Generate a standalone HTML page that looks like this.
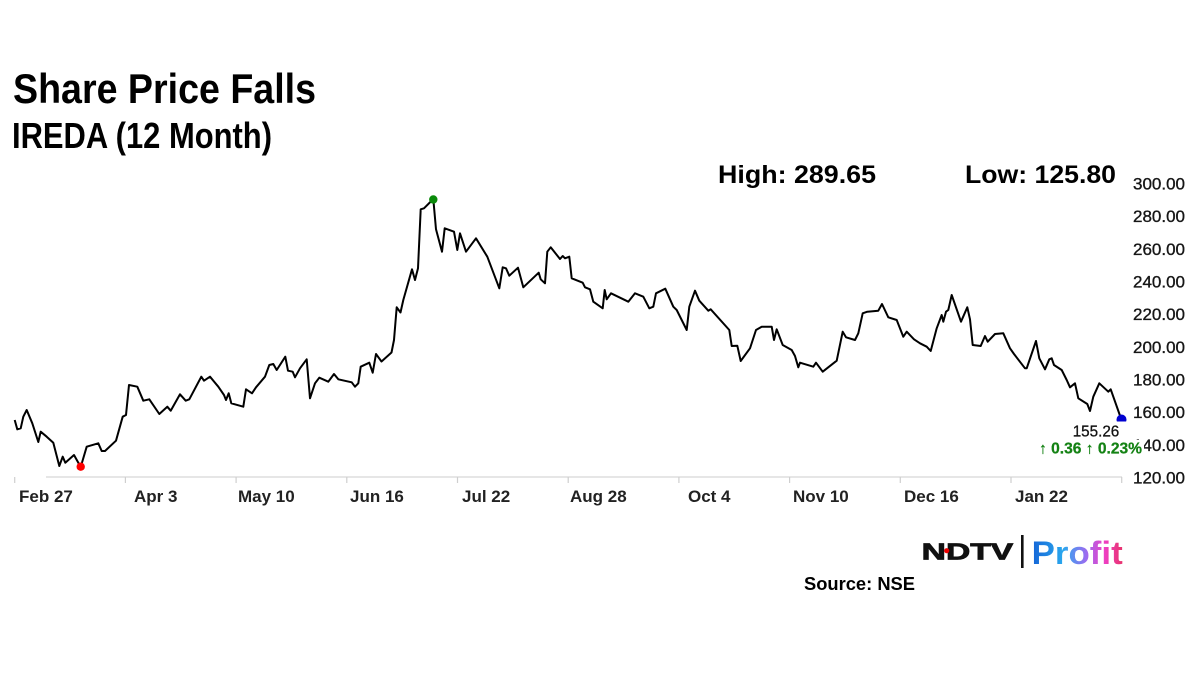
<!DOCTYPE html>
<html><head><meta charset="utf-8"><style>
html,body{margin:0;padding:0;background:#fff;}
svg{display:block;}
text{font-family:"Liberation Sans",Arial,sans-serif;}
</style></head><body>
<svg width="1200" height="675" viewBox="0 0 1200 675" xmlns="http://www.w3.org/2000/svg">
<defs>
<linearGradient id="pg" x1="1031" y1="0" x2="1123" y2="0" gradientUnits="userSpaceOnUse">
<stop offset="0" stop-color="#1463d6"/>
<stop offset="0.35" stop-color="#2aa8ee"/>
<stop offset="0.6" stop-color="#9b6cf0"/>
<stop offset="0.8" stop-color="#ee3fc4"/>
<stop offset="1" stop-color="#e8336a"/>
</linearGradient>
<clipPath id="bc"><rect x="1100" y="400" width="40" height="21.5"/></clipPath>
</defs>
<rect width="1200" height="675" fill="#fff"/>
<text x="13" y="103" font-size="42" font-weight="bold" fill="#000" textLength="303" lengthAdjust="spacingAndGlyphs">Share Price Falls</text>
<text x="12" y="148" font-size="36" font-weight="bold" fill="#000" textLength="260" lengthAdjust="spacingAndGlyphs">IREDA (12 Month)</text>
<text x="718" y="183" font-size="25" font-weight="bold" fill="#000" textLength="158" lengthAdjust="spacingAndGlyphs">High: 289.65</text>
<text x="965" y="183" font-size="25" font-weight="bold" fill="#000" textLength="151" lengthAdjust="spacingAndGlyphs">Low: 125.80</text>
<g font-size="17" fill="#161616" stroke="#161616" stroke-width="0.35">
<text x="1133" y="189.5">300.00</text>
<text x="1133" y="222.2">280.00</text>
<text x="1133" y="254.8">260.00</text>
<text x="1133" y="287.5">240.00</text>
<text x="1133" y="320.2">220.00</text>
<text x="1133" y="352.8">200.00</text>
<text x="1133" y="385.5">180.00</text>
<text x="1133" y="418.2">160.00</text>
<text x="1133" y="450.8">140.00</text>
<text x="1133" y="483.5">120.00</text>
</g>
<line x1="46" y1="477" x2="1122" y2="477" stroke="#d6d6d6" stroke-width="1.2"/>
<g stroke="#cfcfcf" stroke-width="1.2">
<line x1="14.7" y1="477" x2="14.7" y2="483"/>
<line x1="125.4" y1="477" x2="125.4" y2="483"/>
<line x1="236.1" y1="477" x2="236.1" y2="483"/>
<line x1="346.8" y1="477" x2="346.8" y2="483"/>
<line x1="457.5" y1="477" x2="457.5" y2="483"/>
<line x1="568.2" y1="477" x2="568.2" y2="483"/>
<line x1="678.9" y1="477" x2="678.9" y2="483"/>
<line x1="789.6" y1="477" x2="789.6" y2="483"/>
<line x1="900.3" y1="477" x2="900.3" y2="483"/>
<line x1="1011" y1="477" x2="1011" y2="483"/>
<line x1="1121.7" y1="477" x2="1121.7" y2="483"/>
</g>
<g font-size="17" font-weight="bold" fill="#222">
<text x="19" y="502">Feb 27</text>
<text x="134" y="502">Apr 3</text>
<text x="238" y="502">May 10</text>
<text x="350" y="502">Jun 16</text>
<text x="462" y="502">Jul 22</text>
<text x="570" y="502">Aug 28</text>
<text x="688" y="502">Oct 4</text>
<text x="793" y="502">Nov 10</text>
<text x="904" y="502">Dec 16</text>
<text x="1015" y="502">Jan 22</text>
</g>
<polyline fill="none" stroke="#000" stroke-width="2" stroke-linejoin="round" points="14.7,420 17.3,429.3 20.7,428.3 23.3,416.7 26.7,410 32.3,423.3 38.3,442 40.7,431.7 46.7,436.7 53.3,442.7 59.3,466 62.7,456.7 65.3,462.7 74,455 80.7,467 86.7,446.7 98.3,443.3 101.7,451 105,451 116,440.7 122.7,416.7 126,415 129,385 137.3,386.7 143.3,400.7 149.3,399.3 159.3,414 167.3,406.7 170.7,410.7 180,394.3 185.7,400.7 189.3,399.3 201.3,376.7 204,380.7 210,376.7 218.3,386.7 224,395 226,400 228.7,393.3 231.3,403.3 243.3,406.7 246,389.3 252,393.3 256,387.3 265,376.7 269.3,365 273.3,364 276.7,370 285.3,356.7 288,370.7 292.7,371.7 295,377.3 300,368.3 306.7,359.3 310,398.3 315,383.3 319.3,377.7 328.3,381.7 334,374 338.3,379.3 351.7,382.3 355,386.7 358.3,383.3 360.7,366.7 369.3,362.7 372.7,372.7 376,354 381.5,361.5 391.5,352.5 394,340 396.7,307.3 400.5,312.5 403.3,300 412,269.3 415,280 418,268.3 420.7,209.3 424,208.3 433.3,199 436,229.3 442,251.7 444.7,228.3 454,231.7 457.3,250 460,233.3 466,251.7 476,238.3 487.3,256.7 499.3,288.3 502.7,267.3 506,268.3 509.3,275.7 518,267.7 523.3,287.3 538.7,272.7 540.7,279.3 545,283.3 547.3,251.7 550.7,247.3 560,259 562.7,256 565,258.3 569.3,256.7 571.7,278.3 582.7,282.7 585,287.3 590,289.3 593.3,301.7 602.7,308.3 604.7,290 606.7,299.3 611,293.3 628.3,301.7 635,293.3 643.3,296.7 649.3,308.3 653.3,306.7 656,293.3 665.3,288.7 673.3,306.7 676.7,310 686.7,330 689.3,306.7 695,290.7 699.3,300.7 708.3,310.7 710.7,309.3 729.3,330 731.7,346 737.3,345.7 740.7,361 750,348.3 756,330 761.7,326.7 771.7,326.7 774,340 776.7,329.3 782.7,345 791.7,350 795,356 798.3,367.3 800,362.7 813.3,366.7 816,362.7 822.7,371.7 836.7,360.7 842.7,331.7 846,337.3 855,340 858.3,333.3 862.7,313.3 867.3,311.7 878.3,310.7 882,304 888.3,317.3 896.7,320 903.3,336.7 906.7,331.7 914,339.3 920,343.3 926.7,346.7 930.7,351 936.7,328.3 941.7,315 943.3,321.7 946,311.7 948.3,310 951.7,295 961,321.7 967.3,307.3 970,319.3 972.7,345 980.7,346 985,336 987.7,341.7 995,334 1003.3,333.3 1010,348.3 1014,354 1025,368.3 1026.7,368.3 1036,341 1039.3,358.3 1045,369.3 1049.3,359.3 1051.7,358.3 1054,365 1061.7,370 1066.7,380 1070,387.3 1075,383.3 1078.3,398.3 1087.3,404 1090,411 1093.3,396.7 1099.3,383.3 1108.3,391.7 1110.7,389.3 1121,418.5"/>
<circle cx="80.7" cy="466.7" r="4.2" fill="#f00"/>
<circle cx="433.3" cy="199.5" r="4.2" fill="#0a8a0a"/>
<circle cx="1121.5" cy="419.5" r="5" fill="#0000d0" clip-path="url(#bc)"/>
<text x="1119.3" y="436.7" font-size="15.5" fill="#111" stroke="#111" stroke-width="0.3" text-anchor="end" textLength="46.6" lengthAdjust="spacingAndGlyphs">155.26</text>
<rect x="1036" y="440" width="108" height="17" fill="#fff"/>
<text x="1039" y="453.3" font-size="15.5" font-weight="bold" fill="#148214" stroke="#148214" stroke-width="0.25" textLength="103" lengthAdjust="spacingAndGlyphs">↑ 0.36 ↑ 0.23%</text>
<text x="921.7" y="559.3" font-size="23" font-weight="900" fill="#111" stroke="#111" stroke-width="0.8" textLength="91.5" lengthAdjust="spacingAndGlyphs">NDTV</text>
<circle cx="946.7" cy="550.7" r="2.6" fill="#e00"/>
<rect x="1021" y="535" width="2.6" height="33" fill="#111"/>
<text x="1031.7" y="564" font-size="32" font-weight="bold" fill="url(#pg)" textLength="91" lengthAdjust="spacingAndGlyphs">Profit</text>
<text x="804" y="590" font-size="18" font-weight="bold" fill="#000" textLength="111" lengthAdjust="spacingAndGlyphs">Source: NSE</text>
</svg>
</body></html>
